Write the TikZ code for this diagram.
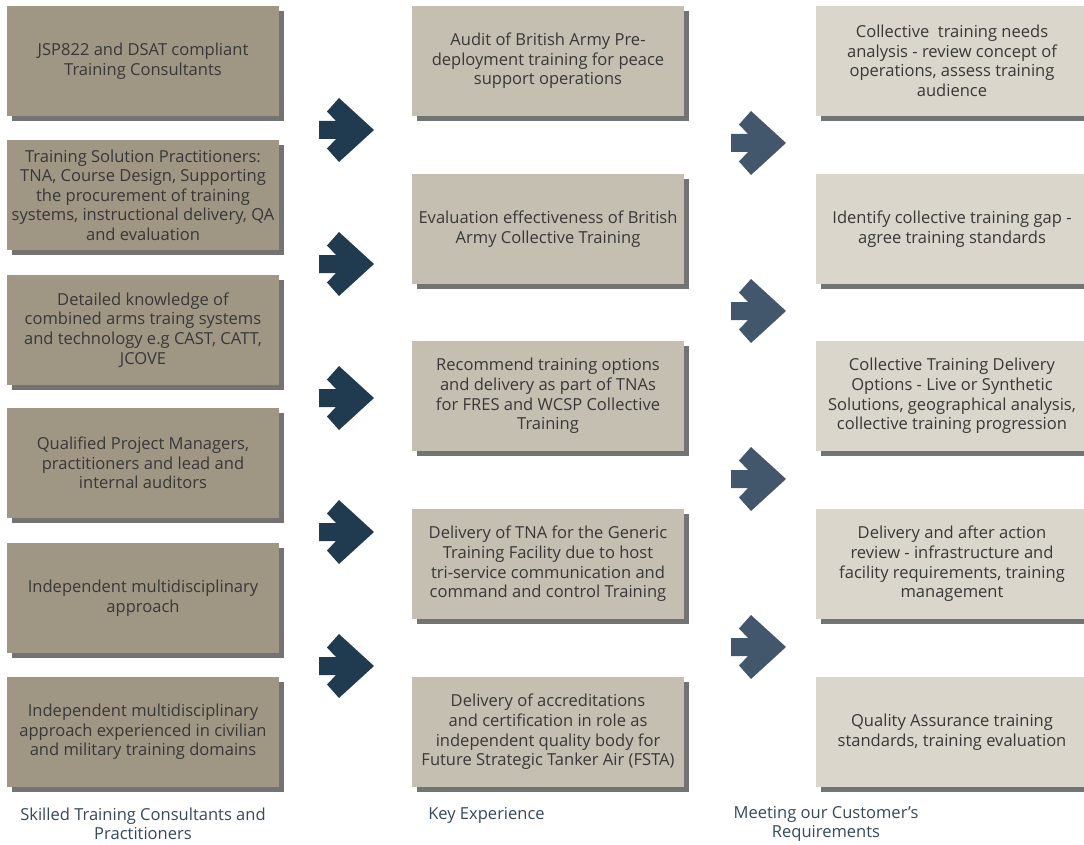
\documentclass[tikz,border=0pt]{standalone}
\usepackage{fontspec}
\setmainfont{Open Sans}
\usetikzlibrary{shadows}

\definecolor{skillfill}{HTML}{9F9784}
\definecolor{expfill}{HTML}{C5BFB2}
\definecolor{needfill}{HTML}{DAD6CC}
\definecolor{arrowdark}{HTML}{203B50}
\definecolor{arrowmid}{HTML}{42576C}
\definecolor{boxtext}{HTML}{383838}
\definecolor{captext}{HTML}{34495C}

\begin{document}
\begin{tikzpicture}[
    x=0.75pt, y=-0.75pt,
    box/.style={
        text=boxtext,
        font=\fontsize{12.4}{14.7}\selectfont,
        align=center,
        minimum width=204pt,
        minimum height=82.5pt,
        inner sep=0pt,
        drop shadow={shadow xshift=3.5pt, shadow yshift=-3.5pt, fill=black, opacity=0.55}
    },
    skillbox/.style={box, fill=skillfill},
    expbox/.style={box, fill=expfill},
    needbox/.style={box, fill=needfill},
    caption/.style={
        text=captext,
        font=\fontsize{12.4}{14.2}\selectfont,
        align=center,
        inner sep=0pt
    },
    chevron/.pic={
        \fill (0,-9) -- (17,-9) -- (8,-18.5) -- (20,-32) -- (55,0)
              -- (20,32) -- (8,18.5) -- (17,9) -- (0,9) -- cycle;
    }
]
    \useasboundingbox (0,0) rectangle (1084,845);

    % Skilled consultants column
    \node[skillbox] (skill1) at (143,61) {JSP822 and DSAT compliant\\Training Consultants};
    \node[skillbox] (skill2) at (143,195) {Training Solution Practitioners:\\TNA, Course Design, Supporting\\the procurement of training\\systems, instructional delivery, QA\\and evaluation};
    \node[skillbox] (skill3) at (143,330) {Detailed knowledge of\\combined arms traing systems\\and technology e.g CAST, CATT,\\JCOVE};
    \node[skillbox] (skill4) at (143,463) {Qualified Project Managers,\\practitioners and lead and\\internal auditors};
    \node[skillbox] (skill5) at (143,598) {Independent multidisciplinary\\approach};
    \node[skillbox] (skill6) at (143,732) {Independent multidisciplinary\\approach experienced in civilian\\and military training domains};

    % Key experience column
    \node[expbox] (exp1) at (548,61) {Audit of British Army Pre-\\deployment training for peace\\support operations};
    \node[expbox] (exp2) at (548,229) {Evaluation effectiveness of British\\Army Collective Training};
    \node[expbox] (exp3) at (548,396) {Recommend training options\\and delivery as part of TNAs\\for FRES and WCSP Collective\\Training};
    \node[expbox] (exp4) at (548,564) {Delivery of TNA for the Generic\\Training Facility due to host\\tri-service communication and\\command and control Training};
    \node[expbox] (exp5) at (548,732) {Delivery of accreditations\\and certification in role as\\independent quality body for\\Future Strategic Tanker Air (FSTA)};

    % Customer requirements column
    \node[needbox] (need1) at (952,61) {Collective\ \ training needs\\analysis - review concept of\\operations, assess training\\audience};
    \node[needbox] (need2) at (952,229) {Identify collective training gap -\\agree training standards};
    \node[needbox] (need3) at (952,396) {Collective Training Delivery\\Options - Live or Synthetic\\Solutions, geographical analysis,\\collective training progression};
    \node[needbox] (need4) at (952,564) {Delivery and after action\\review - infrastructure and\\facility requirements, training\\management};
    \node[needbox] (need5) at (952,732) {Quality Assurance training\\standards, training evaluation};

    % Arrows between columns
    \pic[fill=arrowdark] at (319,130) {chevron};
    \pic[fill=arrowdark] at (319,264) {chevron};
    \pic[fill=arrowdark] at (319,398) {chevron};
    \pic[fill=arrowdark] at (319,532) {chevron};
    \pic[fill=arrowdark] at (319,666) {chevron};

    \pic[fill=arrowmid] at (731,143) {chevron};
    \pic[fill=arrowmid] at (731,311) {chevron};
    \pic[fill=arrowmid] at (731,479) {chevron};
    \pic[fill=arrowmid] at (731,647) {chevron};

    % Column captions
    \node[caption] (capskill) at (143,824) {Skilled Training Consultants and\\Practitioners};
    \node[caption, anchor=west] (capexp) at (428,815) {Key Experience};
    \node[caption] (capneed) at (826,824) {Meeting our Customer's\\Requirements};
\end{tikzpicture}
\end{document}
